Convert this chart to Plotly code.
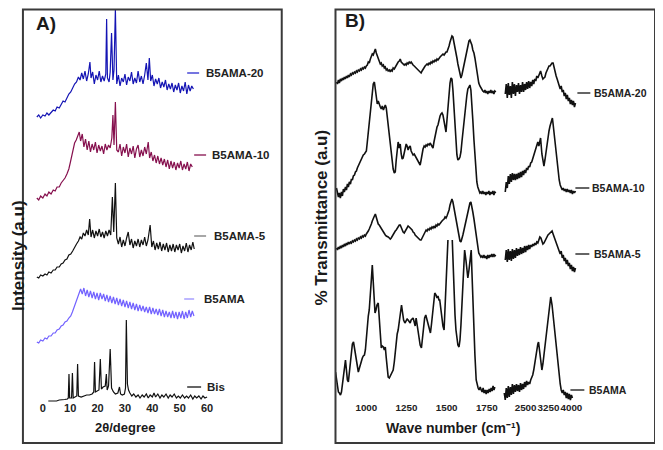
import plotly.graph_objects as go

# ---------------- Panel A: XRD (2theta in degrees, intensity in a.u., stacked) ----------------
XRD_B5AMA20 = [(-2.2,333),(-1.5,335),(-0.8,332),(0,335),(0.8,334),(1.5,337),(2.2,335),(3.0,338),(3.8,340),(4.5,339),
 (5.2,343),(6.0,342),(6.7,346),(7.4,349),(8.1,348),(8.8,353),(9.5,356),(10.2,358),(10.9,362),(11.6,366),(12.3,368),
 (13.0,373),(13.6,370),(14.2,377),(14.8,371),(15.4,379),(16.0,369),(16.6,376),(17.2,388),(17.6,372),(18.2,378),
 (18.8,366),(19.4,375),(20.0,370),(20.6,379),(21.2,368),(21.8,374),(22.4,369),(23.0,376),(23.3,431),(23.6,372),
 (24.2,368),(24.6,378),(25.1,417),(25.6,370),(26.0,380),(26.5,441),(27.0,366),(27.6,375),(28.2,364),(28.8,372),
 (29.4,368),(30.0,376),(30.6,365),(31.2,373),(31.8,369),(32.4,378),(33.0,366),(33.6,372),(34.2,367),(34.8,379),
 (35.4,368),(36.0,374),(36.6,366),(37.2,375),(37.8,387),(38.4,370),(38.9,392),(39.4,369),(40.0,375),(40.6,364),
 (41.2,371),(41.8,366),(42.4,372),(43.0,362),(43.6,368),(44.2,363),(44.8,370),(45.4,360),(46.0,366),(46.6,361),
 (47.2,367),(47.8,358),(48.4,365),(49.0,360),(49.6,367),(50.2,357),(50.8,364),(51.4,359),(52.0,368),(52.6,356),
 (53.2,365),(53.8,359),(54.4,364),(55.0,361)]

XRD_B5AMA10 = [(-2.2,252),(-1.5,250),(-0.8,254),(0,252),(0.8,256),(1.5,254),(2.2,258),(3.0,256),(3.8,260),(4.5,259),
 (5.2,263),(6.0,263),(6.7,267),(7.4,269),(8.1,272),(8.8,276),(9.5,281),(10.0,287),(10.5,293),(11.0,301),(11.6,307),
 (12.2,310),(12.8,314),(13.3,318),(13.8,309),(14.4,316),(15.0,303),(15.6,311),(16.2,300),(16.8,309),(17.4,298),
 (18.0,306),(18.6,300),(19.2,308),(19.8,297),(20.4,305),(21.0,299),(21.6,304),(22.2,296),(22.8,306),(23.4,300),
 (24.0,305),(24.6,302),(25.2,312),(25.6,335),(26.0,305),(26.5,348),(27.0,300),(27.6,298),(28.2,306),(28.8,294),
 (29.4,303),(30.0,297),(30.6,306),(31.2,293),(31.8,302),(32.4,296),(33.0,304),(33.6,292),(34.2,301),(34.8,305),
 (35.4,293),(36.0,300),(36.6,294),(37.2,303),(37.8,296),(38.5,308),(39.0,292),(39.6,298),(40.2,289),(40.8,295),
 (41.4,287),(42.0,294),(42.6,286),(43.2,292),(43.8,285),(44.4,291),(45.0,283),(45.6,290),(46.2,281),(46.8,289),
 (47.4,282),(48.0,288),(48.6,280),(49.2,287),(49.8,282),(50.4,289),(51.0,280),(51.6,286),(52.2,281),(52.8,288),
 (53.4,279),(54.0,286),(54.6,283)]

XRD_B5AMA5 = [(-2.2,173),(-1.5,172),(-0.8,175),(0,174),(0.8,176),(1.5,175),(2.2,178),(3.0,177),(3.8,180),(4.5,180),
 (5.2,183),(6.0,183),(6.7,186),(7.4,187),(8.1,190),(8.8,191),(9.5,195),(10.2,196),(10.9,199),(11.6,203),(12.3,206),
 (13.0,209),(13.6,213),(14.2,211),(14.8,217),(15.4,214),(16.0,220),(16.6,215),(17.1,231),(17.6,213),(18.2,220),
 (18.8,212),(19.4,219),(20.0,214),(20.6,221),(21.2,213),(21.8,218),(22.4,212),(23.0,219),(23.6,214),(24.2,220),
 (24.8,215),(25.4,253),(25.9,218),(26.5,267),(27.0,212),(27.6,206),(28.2,213),(28.8,203),(29.4,210),(30.0,204),
 (30.6,212),(31.2,218),(31.8,205),(32.4,211),(33.0,202),(33.6,209),(34.2,204),(34.8,211),(35.4,203),(36.0,210),
 (36.6,205),(37.2,213),(37.8,204),(38.4,210),(39.2,225),(39.8,203),(40.4,209),(41.0,200),(41.6,207),(42.2,201),
 (42.8,208),(43.4,199),(44.0,206),(44.6,200),(45.2,207),(45.8,198),(46.4,205),(47.0,199),(47.6,206),(48.2,198),
 (48.8,205),(49.4,200),(50.0,206),(50.6,197),(51.2,204),(51.8,199),(52.4,207),(53.0,198),(53.6,205),(54.2,200),
 (54.8,208),(55.3,201)]

XRD_B5AMA = [(-2.2,108),(-1.5,107),(-0.8,110),(0,109),(0.8,112),(1.5,111),(2.2,114),(3.0,114),(3.8,117),(4.5,117),
 (5.2,120),(6.0,121),(6.7,124),(7.4,125),(8.1,128),(8.8,129),(9.5,132),(10.2,134),(10.8,138),(11.4,143),(12.0,148),
 (12.6,153),(13.2,158),(13.8,161),(14.4,156),(15.0,162),(15.6,154),(16.2,160),(16.8,153),(17.4,159),(18.0,152),
 (18.6,158),(19.2,151),(19.8,157),(20.4,150),(21.0,157),(21.6,151),(22.2,156),(22.8,149),(23.4,155),(24.0,148),
 (24.6,154),(25.2,147),(25.8,153),(26.4,146),(27.0,152),(27.6,145),(28.2,151),(28.8,144),(29.4,150),(30.0,143),
 (30.6,149),(31.2,142),(31.8,148),(32.4,141),(33.0,147),(33.6,140),(34.2,146),(34.8,139),(35.4,145),(36.0,139),
 (36.6,144),(37.2,138),(37.8,143),(38.4,137),(39.0,143),(39.6,136),(40.2,142),(40.8,136),(41.4,141),(42.0,135),
 (42.6,141),(43.2,134),(43.8,140),(44.4,133),(45.0,139),(45.6,133),(46.2,138),(46.8,132),(47.4,139),(48.0,132),
 (48.6,138),(49.2,131),(49.8,138),(50.4,132),(51.0,139),(51.6,131),(52.2,138),(52.8,132),(53.4,140),(54.0,133),
 (54.6,139),(55.2,134)]

XRD_BIS = [(2.0,49),(3,49),(4,49.5),(5,49),(6,50),(7,50),(8,50.5),(9,51),(9.3,52),(9.55,76),(9.8,52),(10.5,52),
 (10.8,77),(11.1,52),(12.0,53),(12.4,54),(12.7,86),(13.0,54),(14,53),(15,54),(16,55),(17,55),(18,56),(18.6,58),
 (18.9,88),(19.2,58),(19.8,59),(20.5,60),(21.0,91),(21.4,61),(22,63),(22.8,64),(23.2,76),(23.5,60),(24.0,64),
 (24.6,101),(25.1,62),(25.8,58),(26.5,56),(27.4,57),(28.0,63),(28.4,56),(29.0,55),(29.8,56),(30.2,62),(30.5,130),
 (30.9,66),(31.3,60),(31.8,57),(32.5,54),(33.2,56),(34.0,53),(34.8,55),(35.5,52),(36.3,55),(37.0,53),(37.8,56),
 (38.5,52),(39.2,55),(40.0,53),(40.6,57),(41.2,53),(42.0,56),(42.8,52),(43.5,55),(44.2,53),(45.0,56),(45.8,52),
 (46.5,55),(47.2,53),(48.0,56),(48.8,52),(49.5,54),(50.2,52),(51.0,55),(51.8,52),(52.5,54),(53.2,52),(54.0,55),
 (54.8,51),(55.5,54),(56.2,52),(57.0,54),(57.8,51),(58.5,54),(59.2,52),(60.0,53)]

XRD_NAMES = ["B5AMA-20", "B5AMA-10", "B5AMA-5", "B5AMA", "Bis"]
XRD_TICKS = [0, 10, 20, 30, 40, 50, 60]

# ---------------- Panel B: FTIR (wave number cm-1, transmittance a.u., stacked) ----------------
FTIR_B5AMA20_LOW = [(814,368),(820,366),(826,370),(832,367),(838,371),(845,369),(851,372),(857,370),(863,373),(869,371),
 (876,374),(882,372),(888,375),(894,373),(901,376),(907,375),(913,377),(919,376),(926,378),(932,377),(938,379),(944,378),
 (950,380),(957,379),(963,381),(969,380),(975,382),(981,381),(988,383),(994,382),(1000,384),(1006,385),(1012,388),
 (1018,387),(1025,391),(1031,393),(1037,396),(1043,395),(1050,399),(1056,401),(1062,397),(1068,394),(1074,390),
 (1080,389),(1087,386),(1093,387),(1099,384),(1106,385),(1112,382),(1118,383),(1124,380),(1130,381),(1136,379),
 (1143,380),(1149,378),(1155,380),(1161,379),(1167,382),(1174,381),(1180,383),(1186,385),(1192,386),(1198,388),
 (1205,389),(1211,391),(1217,388),(1223,387),(1229,386),(1236,385),(1242,386),(1248,385),(1254,387),(1260,386),
 (1267,388),(1273,387),(1279,388),(1285,386),(1291,385),(1298,384),(1304,383),(1310,382),(1316,381),(1322,380),
 (1329,379),(1335,378),(1341,377),(1347,379),(1353,381),(1360,383),(1366,384),(1372,385),(1378,386),(1384,385),
 (1391,387),(1397,386),(1403,388),(1409,387),(1415,389),(1421,388),(1428,390),(1434,389),(1440,391),(1446,390),
 (1452,392),(1459,393),(1465,394),(1471,395),(1477,396),(1484,395),(1490,397),(1496,398),(1502,398),(1508,400),
 (1515,404),(1521,408),(1527,411),(1533,414),(1539,413),(1546,408),(1552,402),(1558,397),(1564,392),(1570,386),
 (1577,380),(1583,375),(1589,372),(1595,375),(1601,380),(1608,385),(1614,390),(1620,395),(1626,400),(1632,405),
 (1639,409),(1645,410),(1651,408),(1657,405),(1663,400),(1670,397),(1676,392),(1682,385),(1688,378),(1694,372),
 (1700,367),(1707,364),(1713,362),(1719,360),(1725,359),(1732,358),(1738,360),(1744,357),(1750,359),(1756,356),
 (1763,359),(1769,357),(1775,360),(1781,357),(1788,359),(1794,356),(1800,359),(1806,358)]

FTIR_B5AMA20_HIGH = [(1833,356),(1866,366),(1900,352),(1933,367),(1966,355),(2000,364),(2033,352),(2066,368),(2100,356),
 (2133,366),(2166,354),(2200,365),(2233,358),(2266,367),(2300,356),(2333,365),(2366,358),(2400,368),(2433,358),
 (2466,366),(2500,360),(2533,368),(2566,361),(2600,369),(2633,362),(2666,368),(2700,364),(2733,370),(2766,366),
 (2800,371),(2833,369),(2866,374),(2900,372),(2933,374),(2966,377),(2990,379),(3033,374),(3066,371),(3100,372),
 (3133,373),(3166,377),(3200,380),(3233,382),(3266,384),(3300,384),(3333,386),(3366,387),(3400,387),(3433,382),
 (3466,378),(3500,374),(3533,371),(3566,368),(3600,366),(3633,361),(3666,364),(3700,358),(3733,360),(3766,354),
 (3800,357),(3833,351),(3866,355),(3900,349),(3933,352),(3966,346),(4000,350),(4033,345),(4066,349),(4100,343),
 (4133,347)]

FTIR_B5AMA10_LOW = [(814,262),(820,257),(826,253),(832,257),(838,252),(845,258),(851,254),(857,261),(863,258),(870,263),
 (876,260),(882,266),(888,263),(894,268),(901,266),(907,271),(913,270),(919,274),(926,275),(932,278),(938,279),
 (944,282),(950,284),(957,287),(963,289),(969,292),(975,293),(981,295),(988,296),(994,297),(1000,299),(1006,308),
 (1012,318),(1018,328),(1025,336),(1031,348),(1037,358),(1043,366),(1050,368),(1056,360),(1062,350),(1068,346),
 (1074,349),(1080,345),(1087,343),(1093,341),(1099,344),(1106,340),(1112,343),(1118,345),(1124,342),(1130,333),
 (1136,322),(1143,314),(1149,303),(1155,294),(1161,286),(1167,281),(1174,277),(1180,278),(1186,290),(1192,302),
 (1198,308),(1205,302),(1211,306),(1217,296),(1223,291),(1229,292),(1236,298),(1242,304),(1248,306),(1254,304),
 (1260,300),(1267,303),(1273,304),(1279,299),(1285,297),(1291,295),(1298,296),(1304,294),(1310,293),(1316,291),
 (1322,289),(1329,287),(1335,285),(1341,290),(1347,297),(1353,301),(1360,304),(1366,303),(1372,305),(1378,304),
 (1384,306),(1391,305),(1397,307),(1403,305),(1409,303),(1415,302),(1421,308),(1428,315),(1434,320),(1440,323),
 (1446,325),(1452,330),(1459,334),(1465,336),(1471,337),(1477,335),(1484,328),(1490,320),(1496,318),(1502,330),
 (1508,345),(1515,358),(1521,367),(1527,372),(1533,371),(1539,360),(1546,342),(1552,322),(1558,305),(1564,295),
 (1570,290),(1577,291),(1583,293),(1589,298),(1595,308),(1601,318),(1608,328),(1614,338),(1620,347),(1626,355),
 (1632,361),(1639,364),(1645,365),(1651,360),(1657,348),(1663,330),(1670,310),(1676,292),(1682,276),(1688,268),
 (1694,263),(1700,259),(1707,257),(1713,258),(1719,256),(1725,259),(1732,256),(1738,258),(1744,255),(1750,258),
 (1756,256),(1763,259),(1769,255),(1775,258),(1781,256),(1788,259),(1794,255),(1800,258),(1806,257)]

FTIR_B5AMA10_HIGH = [(1833,258),(1866,268),(1900,262),(1933,274),(1966,266),(2000,276),(2033,268),(2066,277),(2100,270),
 (2133,276),(2166,270),(2200,276),(2233,271),(2266,277),(2300,272),(2333,278),(2366,273),(2400,279),(2433,275),
 (2466,280),(2500,277),(2533,282),(2566,280),(2600,284),(2633,283),(2666,287),(2700,288),(2733,291),(2766,294),
 (2800,297),(2833,300),(2866,305),(2900,308),(2933,304),(2966,310),(2990,312),(3033,296),(3066,288),(3100,284),
 (3133,290),(3166,298),(3200,306),(3233,313),(3266,319),(3300,324),(3333,329),(3377,332),(3400,326),(3433,316),
 (3466,305),(3500,294),(3533,284),(3566,276),(3600,270),(3633,265),(3666,262),(3700,260),(3733,262),(3766,259),
 (3800,261),(3833,258),(3866,261),(3900,258),(3933,260),(3966,257),(4000,260),(4033,256),(4066,259),(4100,257),
 (4133,259)]

FTIR_B5AMA5_LOW = [(814,202),(820,200),(826,203),(832,201),(838,204),(845,202),(851,205),(857,203),(863,206),(870,204),
 (876,207),(882,205),(888,208),(894,206),(901,208),(907,207),(913,209),(919,208),(926,210),(932,209),(938,211),
 (944,210),(950,212),(957,211),(963,213),(969,212),(975,214),(981,213),(988,215),(994,214),(1000,216),(1006,217),
 (1012,219),(1018,221),(1025,223),(1031,226),(1037,229),(1043,232),(1050,234),(1056,236),(1062,232),(1068,229),
 (1074,226),(1080,225),(1087,223),(1093,221),(1099,219),(1106,218),(1112,216),(1118,215),(1124,214),(1130,213),
 (1136,213),(1143,212),(1149,211),(1155,212),(1161,214),(1167,215),(1174,217),(1180,219),(1186,220),(1192,222),
 (1198,224),(1205,225),(1211,225),(1217,222),(1223,220),(1229,218),(1236,217),(1242,219),(1248,221),(1254,223),
 (1260,224),(1267,223),(1273,222),(1279,222),(1285,220),(1291,218),(1298,217),(1304,215),(1310,214),(1316,213),
 (1322,212),(1329,211),(1335,210),(1341,210),(1347,212),(1353,215),(1360,217),(1366,219),(1372,220),(1378,219),
 (1384,221),(1391,220),(1397,222),(1403,221),(1409,223),(1415,222),(1421,224),(1428,222),(1434,225),(1440,224),
 (1446,226),(1452,225),(1459,227),(1465,228),(1471,229),(1477,230),(1484,231),(1490,233),(1496,232),(1502,234),
 (1508,236),(1515,240),(1521,245),(1527,249),(1533,251),(1539,248),(1546,242),(1552,236),(1558,231),(1564,226),
 (1570,219),(1577,213),(1583,209),(1589,208),(1595,211),(1601,215),(1608,220),(1614,225),(1620,229),(1626,235),
 (1632,240),(1639,245),(1645,247),(1651,248),(1657,244),(1663,238),(1670,231),(1676,224),(1682,215),(1688,207),
 (1694,201),(1700,197),(1707,195),(1713,193),(1719,194),(1725,192),(1732,195),(1738,192),(1744,194),(1750,191),
 (1756,195),(1763,192),(1769,195),(1775,193),(1781,196),(1788,193),(1794,196),(1800,194),(1806,195)]

FTIR_B5AMA5_HIGH = [(1833,190),(1866,200),(1900,188),(1933,201),(1966,190),(2000,199),(2033,189),(2066,201),(2100,191),
 (2133,200),(2166,192),(2200,202),(2233,194),(2266,201),(2300,195),(2333,203),(2366,196),(2400,202),(2433,197),
 (2466,204),(2500,198),(2533,204),(2566,200),(2600,205),(2633,201),(2666,205),(2700,203),(2733,206),(2766,204),
 (2800,207),(2833,205),(2866,208),(2900,207),(2933,210),(2966,213),(3000,212),(3033,208),(3066,206),(3100,207),
 (3133,209),(3166,212),(3200,214),(3233,215),(3266,216),(3300,217),(3333,218),(3367,219),(3400,216),(3433,213),
 (3466,210),(3500,207),(3533,205),(3566,202),(3600,200),(3633,196),(3666,199),(3700,192),(3733,195),(3766,189),
 (3800,192),(3833,186),(3866,190),(3900,184),(3933,187),(3966,181),(4000,185),(4033,179),(4066,183),(4100,178),
 (4133,182)]

FTIR_B5AMA_LOW = [(808,78),(814,70),(820,62),(826,58),(832,57),(839,55),(845,58),(851,66),(857,75),(863,84),(870,90),
 (876,80),(882,70),(888,68),(894,78),(901,88),(907,98),(913,106),(920,108),(926,102),(932,96),(938,88),(944,80),
 (950,78),(957,82),(963,86),(969,90),(975,92),(981,94),(988,95),(994,100),(1000,112),(1006,126),(1012,134),
 (1018,140),(1025,152),(1031,170),(1037,185),(1043,170),(1050,145),(1054,137),(1060,140),(1066,145),(1074,147),
 (1080,130),(1087,112),(1093,102),(1099,104),(1106,103),(1112,100),(1118,103),(1124,92),(1130,80),(1136,73),
 (1143,72),(1149,74),(1155,76),(1161,78),(1167,80),(1174,88),(1180,98),(1186,108),(1192,116),(1198,120),(1205,130),
 (1211,140),(1219,145),(1225,138),(1232,130),(1240,127),(1248,129),(1254,131),(1260,130),(1267,128),(1273,127),
 (1279,130),(1285,131),(1291,132),(1298,128),(1304,124),(1310,132),(1316,126),(1322,118),(1329,110),(1335,105),
 (1343,102),(1350,112),(1356,124),(1363,132),(1370,135),(1378,130),(1384,124),(1391,120),(1399,117),(1405,125),
 (1412,138),(1419,150),(1426,157),(1434,155),(1440,152),(1446,154),(1452,150),(1457,150),(1465,140),(1471,130),
 (1477,124),(1484,120),(1490,140),(1496,170),(1502,195),(1508,210),(1521,None),(1535,210),(1540,185),(1546,160),
 (1552,135),(1558,120),(1564,110),(1570,105),(1577,103),(1583,110),(1589,125),(1595,145),(1601,165),(1606,185),
 (1612,200),(1620,190),(1626,178),(1632,172),(1639,180),(1645,192),(1653,200),(1657,180),(1663,150),(1670,120),
 (1676,95),(1684,70),(1690,64),(1696,62),(1702,60),(1709,63),(1715,60),(1721,58),(1727,62),(1733,57),(1740,60),
 (1746,56),(1752,60),(1758,57),(1765,61),(1771,58),(1777,62),(1783,59),(1789,64),(1795,60),(1800,63)]

FTIR_B5AMA_HIGH = [(1800,57),(1833,50),(1866,62),(1900,52),(1933,64),(1966,53),(2000,63),(2033,55),(2066,66),(2100,56),
 (2133,65),(2166,58),(2200,66),(2233,59),(2266,65),(2300,58),(2333,67),(2366,60),(2400,66),(2433,61),(2466,68),
 (2500,63),(2533,69),(2566,65),(2600,68),(2633,66),(2666,70),(2700,72),(2733,75),(2766,80),(2800,88),(2833,96),
 (2866,102),(2900,106),(2923,108),(2966,96),(3000,84),(3033,80),(3066,86),(3100,95),(3133,103),(3166,112),
 (3200,122),(3233,132),(3266,142),(3300,150),(3322,153),(3366,145),(3400,135),(3433,125),(3466,115),(3500,103),
 (3533,92),(3566,82),(3600,73),(3633,66),(3666,60),(3700,57),(3733,60),(3766,55),(3800,58),(3833,52),(3866,57),
 (3900,51),(3933,56),(3966,50),(4000,55),(4033,52)]

FTIR_NAMES = ["B5AMA-20", "B5AMA-10", "B5AMA-5", "B5AMA"]
FTIR_TICKS_LOW = [1000, 1250, 1500, 1750]
FTIR_TICKS_HIGH = [2500, 3250, 4000]

# ---------------- layout helpers ----------------
# The page body keeps its default 8px margin, so the figure is sized to fit the 663x450 window
# and page-pixel positions are converted to paper coordinates relative to the figure.
OFF = 8
FW, FH = 663 - OFF, 450 - OFF

def PX(x):
    return (x - OFF) / FW

def PY(y):
    return 1 - (y - OFF) / FH

FONT = "Arial, 'Liberation Sans', sans-serif"
XRD_COLORS = ["#1414b4", "#86104e", "#111111", "#7262ff", "#111111"]
LABEL_LINE_A = ["#2a2ad0", "#86104e", "#777777", "#9a90ff", "#111111"]

fig = go.Figure()

xrd_sets = [XRD_B5AMA20, XRD_B5AMA10, XRD_B5AMA5, XRD_B5AMA, XRD_BIS]
for name, pts, col in zip(XRD_NAMES, xrd_sets, XRD_COLORS):
    xs, ys = zip(*pts)
    fig.add_trace(go.Scatter(x=list(xs), y=list(ys), mode="lines", name=name,
                             line=dict(color=col, width=1.2), xaxis="x", yaxis="y",
                             showlegend=False))

ftir_sets = [(FTIR_B5AMA20_LOW, FTIR_B5AMA20_HIGH), (FTIR_B5AMA10_LOW, FTIR_B5AMA10_HIGH),
             (FTIR_B5AMA5_LOW, FTIR_B5AMA5_HIGH), (FTIR_B5AMA_LOW, FTIR_B5AMA_HIGH)]
for name, (lo, hi) in zip(FTIR_NAMES, ftir_sets):
    xs, ys = zip(*lo)
    fig.add_trace(go.Scatter(x=list(xs), y=list(ys), mode="lines", name=name,
                             line=dict(color="#111111", width=1.6), xaxis="x2", yaxis="y2",
                             connectgaps=False, showlegend=False))
    xs, ys = zip(*hi)
    fig.add_trace(go.Scatter(x=list(xs), y=list(ys), mode="lines", name=name,
                             line=dict(color="#111111", width=1.6), xaxis="x3", yaxis="y2",
                             showlegend=False))

ydom = [PY(404), PY(9)]
yrng = [46, 441]
tickfont_a = dict(family=FONT, size=11, color="#222222", weight="bold")
tickfont_b = dict(family=FONT, size=9.8, color="#222222", weight="bold")
hi_scale = 46 / 1500.0  # px per cm-1 on the compressed high-wavenumber segment

fig.update_layout(
    width=FW, height=FH,
    margin=dict(l=0, r=0, t=0, b=0),
    paper_bgcolor="white", plot_bgcolor="rgba(0,0,0,0)",
    showlegend=False,
    xaxis=dict(domain=[PX(25), PX(281)], range=[(25 - 43) / 2.75, (281 - 43) / 2.75],
               tickvals=XRD_TICKS, showgrid=False, zeroline=False, showline=False, ticks="",
               tickangle=0, tickfont=tickfont_a, anchor="free", position=PY(400)),
    yaxis=dict(domain=ydom, range=yrng, visible=False),
    xaxis2=dict(domain=[PX(337), PX(500)],
                range=[1000 - 31 / (121 / 750), 1000 + 132 / (121 / 750)],
                tickvals=FTIR_TICKS_LOW, showgrid=False, zeroline=False, showline=False, ticks="",
                tickangle=0, tickfont=tickfont_b, anchor="free", position=PY(400)),
    xaxis3=dict(domain=[PX(504), PX(582)],
                range=[2500 - 24 / hi_scale, 2500 + 54 / hi_scale],
                tickvals=FTIR_TICKS_HIGH, showgrid=False, zeroline=False, showline=False, ticks="",
                tickangle=0, tickfont=tickfont_b, anchor="free", position=PY(400)),
    yaxis2=dict(domain=ydom, range=yrng, visible=False, anchor="x2"),
)

# frames
shapes = []
for x0, x1 in [(23, 283), (337, 658)]:
    shapes.append(dict(type="rect", xref="paper", yref="paper", x0=PX(x0), x1=PX(x1),
                       y0=PY(443), y1=PY(9.5), line=dict(color="#3a3a3a", width=2),
                       fillcolor="rgba(0,0,0,0)"))

annotations = []
# Panel A labels
a_labels = [(188, 200, 73, 207), (195, 207, 155, 213), (195, 207, 236, 215), (185, 195, 299, 205), (188, 202, 387, 208)]
for name, col, (lx0, lx1, ly, tx) in zip(XRD_NAMES, LABEL_LINE_A, a_labels):
    shapes.append(dict(type="line", xref="paper", yref="paper", x0=PX(lx0), x1=PX(lx1),
                       y0=PY(ly), y1=PY(ly), line=dict(color=col, width=1.3)))
    annotations.append(dict(xref="paper", yref="paper", x=PX(tx - 2), y=PY(ly), text="<b>%s</b>" % name,
                            showarrow=False, xanchor="left", yanchor="middle",
                            font=dict(family=FONT, size=11.5, color="#222222")))
# Panel B labels
b_labels = [(580, 593, 93, 597), (578, 592, 188, 595), (578, 592, 254, 597), (573, 587, 390, 592)]
for name, (lx0, lx1, ly, tx) in zip(FTIR_NAMES, b_labels):
    shapes.append(dict(type="line", xref="paper", yref="paper", x0=PX(lx0), x1=PX(lx1),
                       y0=PY(ly), y1=PY(ly), line=dict(color="#111111", width=1.3)))
    annotations.append(dict(xref="paper", yref="paper", x=PX(tx - 2), y=PY(ly), text="<b>%s</b>" % name,
                            showarrow=False, xanchor="left", yanchor="middle",
                            font=dict(family=FONT, size=10.5, color="#222222")))

def txt(x, y, s, size, angle=0):
    return dict(xref="paper", yref="paper", x=PX(x), y=PY(y), text="<b>%s</b>" % s, showarrow=False,
                xanchor="center", yanchor="middle", textangle=angle,
                font=dict(family=FONT, size=size, color="#1a1a1a"))

annotations += [
    txt(46, 24, "A)", 19),
    txt(357, 20, "B)", 19),
    txt(126, 427, "2θ/degree", 13),
    txt(455, 428, "Wave number (cm⁻¹)", 14),
    txt(18, 255, "Intensity (a.u)", 17, -90),
    txt(322, 218, "% Transmittance (a.u)", 17, -90),
]

fig.update_layout(shapes=shapes, annotations=annotations)
fig.write_html("out.html")
